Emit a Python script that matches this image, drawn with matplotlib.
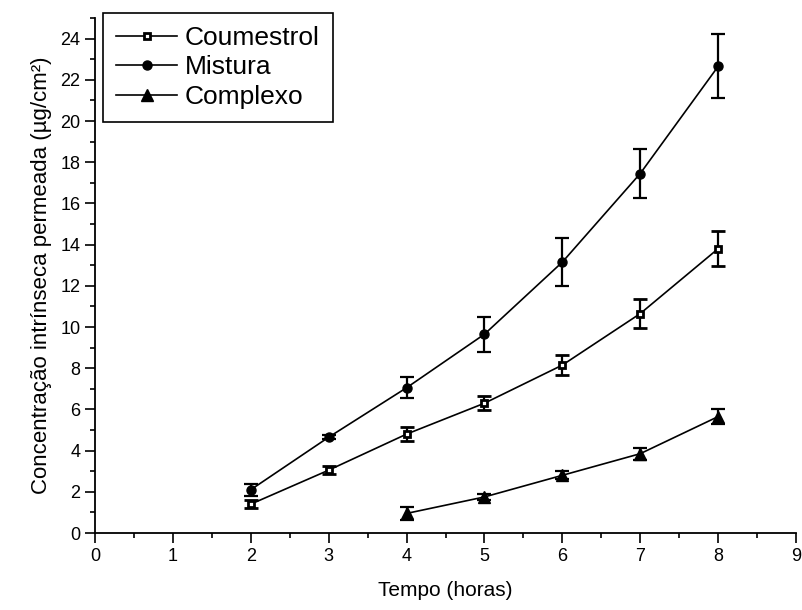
import matplotlib
matplotlib.use("Agg")
import matplotlib.pyplot as plt
from matplotlib.lines import Line2D
from matplotlib.ticker import MultipleLocator

plt.rcParams["font.family"] = ["Liberation Sans", "DejaVu Sans"]

# Permeated amount over time, mean and standard deviation per formulation
tempo_coumestrol = [2, 3, 4, 5, 6, 7, 8]
coumestrol = [1.4, 3.05, 4.8, 6.3, 8.15, 10.65, 13.8]
coumestrol_err = [0.2, 0.2, 0.35, 0.35, 0.5, 0.72, 0.85]

tempo_mistura = [2, 3, 4, 5, 6, 7, 8]
mistura = [2.1, 4.65, 7.05, 9.65, 13.15, 17.45, 22.65]
mistura_err = [0.3, 0.1, 0.5, 0.85, 1.15, 1.2, 1.55]

tempo_complexo = [4, 5, 6, 7, 8]
complexo = [0.95, 1.75, 2.8, 3.85, 5.65]
complexo_err = [0.3, 0.15, 0.2, 0.3, 0.35]

fig = plt.figure(figsize=(8.02, 6.10), dpi=100)
ax = fig.add_axes([95 / 802, 77 / 610, 701 / 802, 515 / 610])

styles = {
    "Coumestrol": dict(marker="s", markersize=5, markerfacecolor="white", markeredgewidth=2),
    "Mistura": dict(marker="o", markersize=6.5),
    "Complexo": dict(marker="^", markersize=8),
}
common = dict(color="black", linewidth=1.2, elinewidth=1.6, capsize=5, capthick=1.6)

ax.errorbar(tempo_coumestrol, coumestrol, yerr=coumestrol_err,
            **styles["Coumestrol"], **common)
ax.errorbar(tempo_mistura, mistura, yerr=mistura_err, **styles["Mistura"], **common)
ax.errorbar(tempo_complexo, complexo, yerr=complexo_err, **styles["Complexo"], **common)

ax.set_xlim(0, 9)
ax.set_ylim(0, 25)
ax.xaxis.set_major_locator(MultipleLocator(1))
ax.xaxis.set_minor_locator(MultipleLocator(0.5))
ax.yaxis.set_major_locator(MultipleLocator(2))
ax.yaxis.set_minor_locator(MultipleLocator(1))
ax.tick_params(which="major", direction="out", length=7, width=1.2, labelsize=13)
ax.tick_params(which="minor", direction="out", length=3.5, width=1.2)

for side in ("top", "right"):
    ax.spines[side].set_visible(False)
for side in ("left", "bottom"):
    ax.spines[side].set_linewidth(1.3)

ax.set_xlabel("Tempo (horas)", fontsize=15, labelpad=12)
ax.set_ylabel("Concentração intrínseca permeada (µg/cm²)", fontsize=16, labelpad=6)

# legend shows line + marker only, without the error bars
handles = [Line2D([], [], color="black", linewidth=1.2, label=name, **st)
           for name, st in styles.items()]
leg = ax.legend(handles=handles, loc="upper left",
                bbox_to_anchor=(103 / 802, 1 - 13 / 610),
                bbox_transform=fig.transFigure, borderaxespad=0, fontsize=19,
                handlelength=2.3, handletextpad=0.3, labelspacing=0.2,
                borderpad=0.5, fancybox=False, framealpha=1, edgecolor="black")
leg.get_frame().set_linewidth(1.2)

fig.savefig("out.png", dpi=100)
